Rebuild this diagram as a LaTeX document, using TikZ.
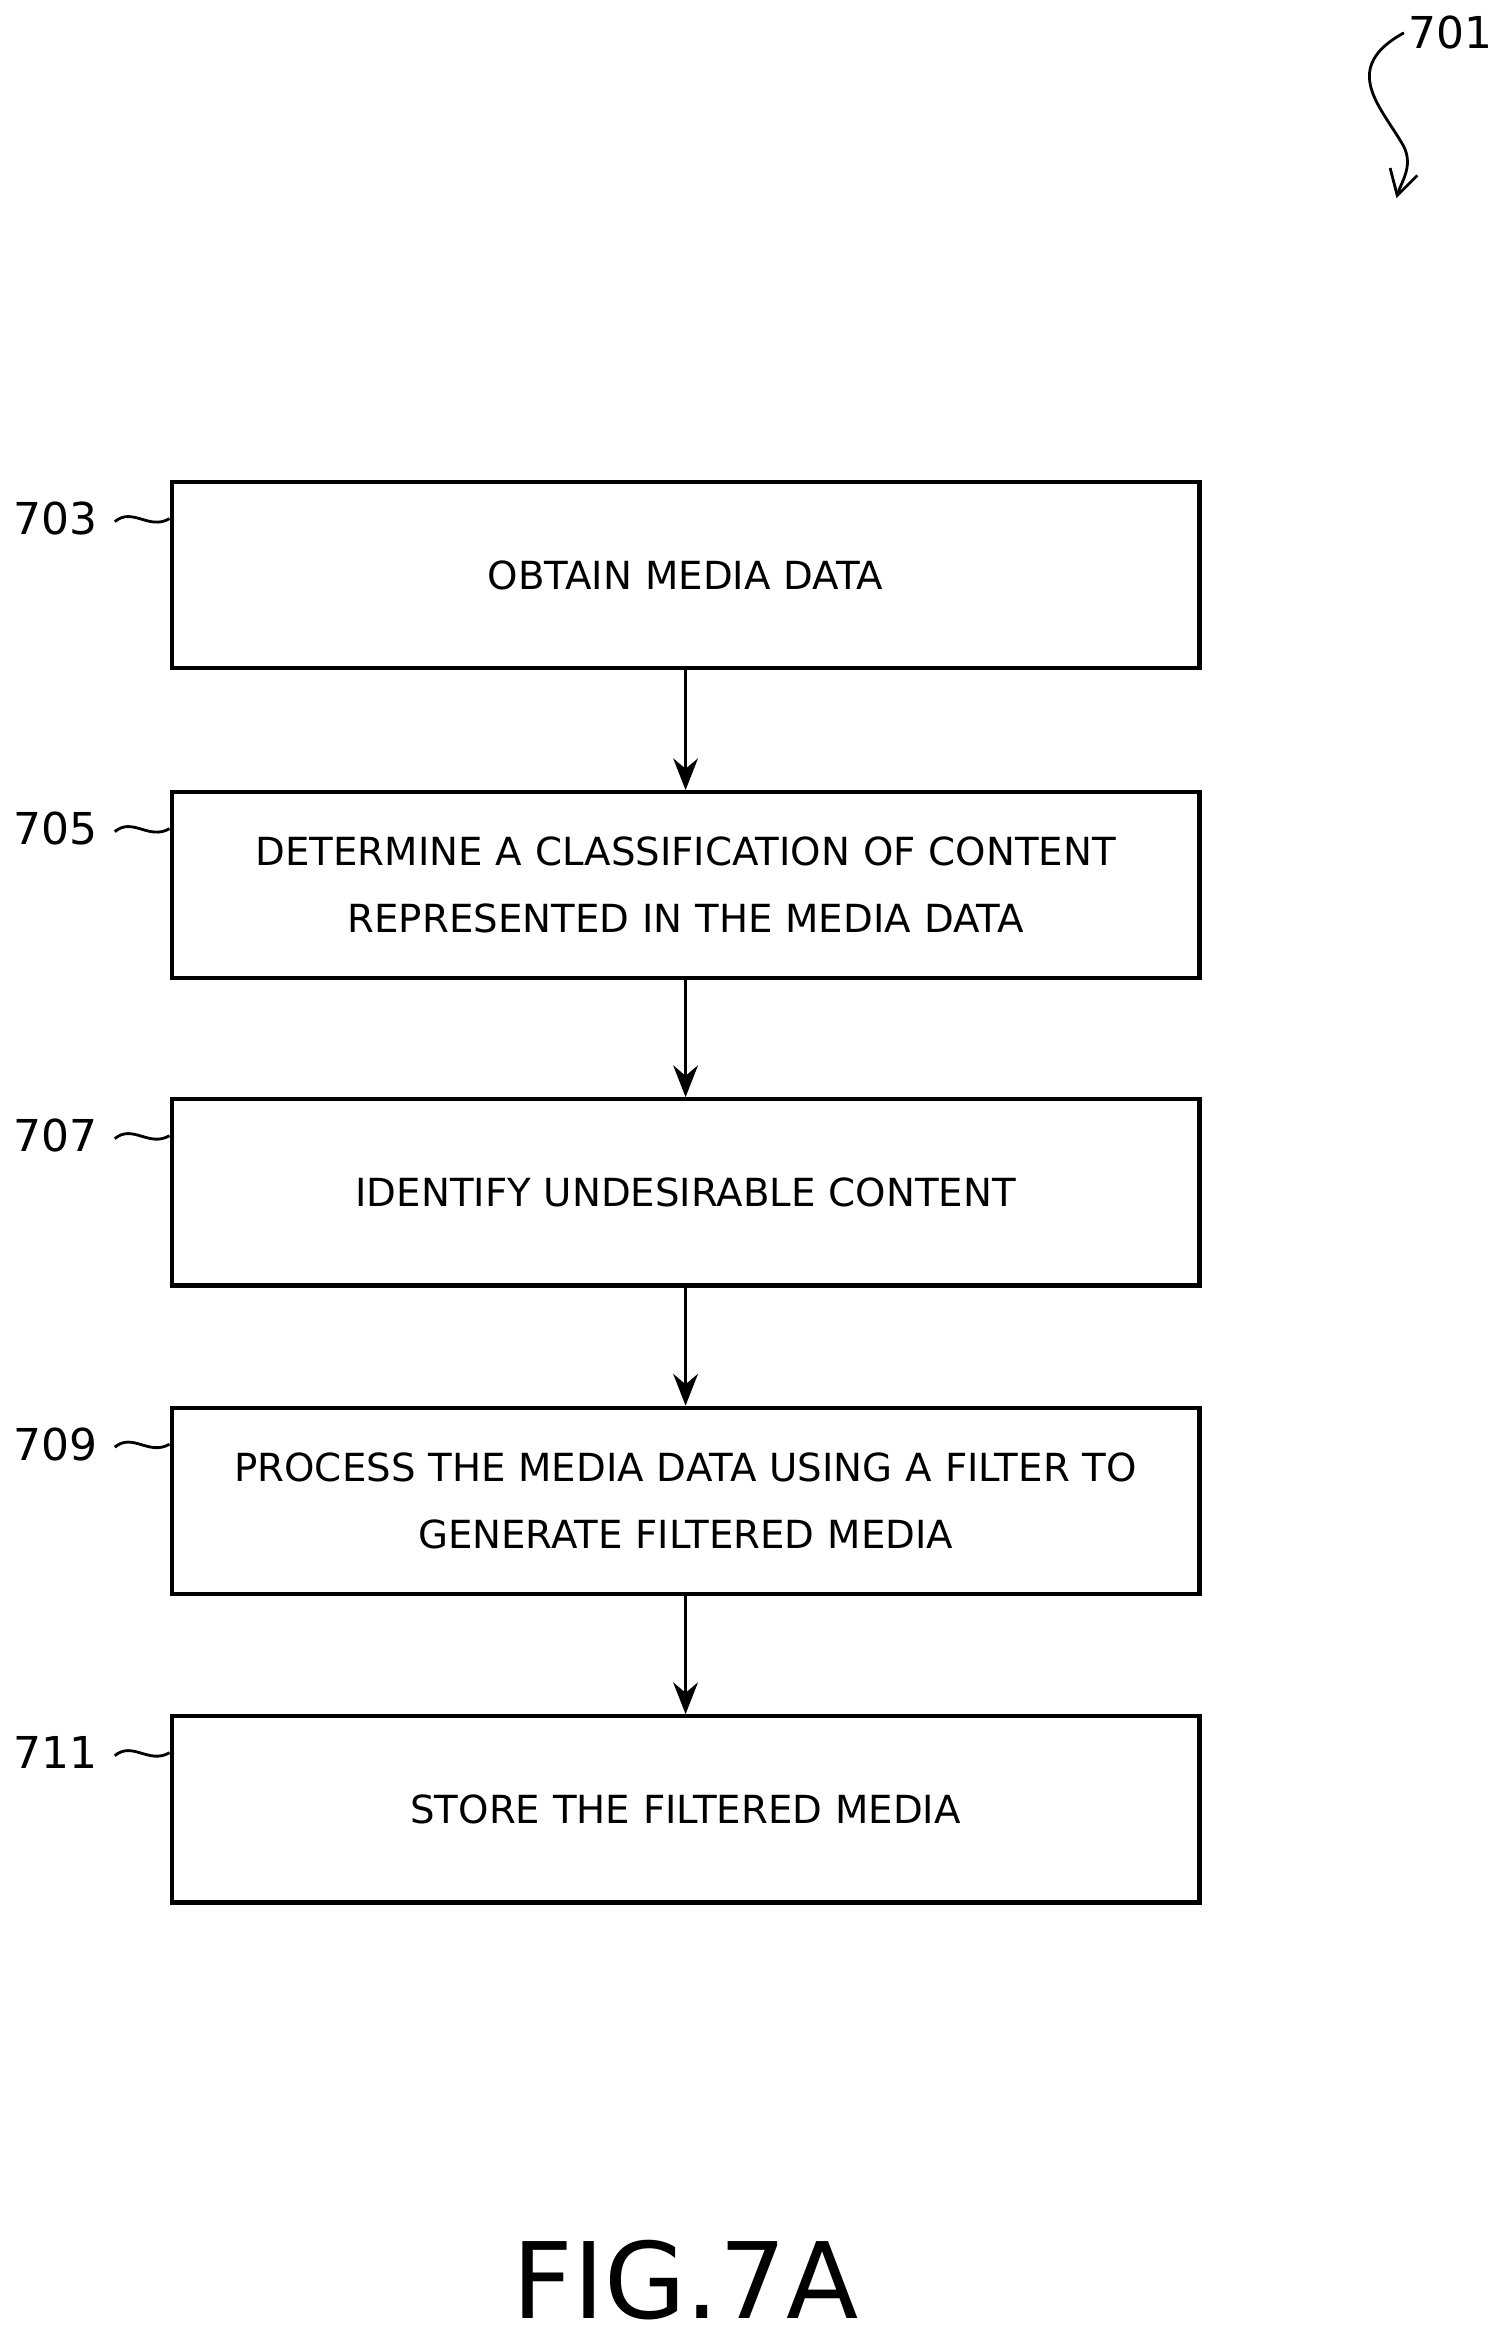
\documentclass[tikz,border=0pt]{standalone}
\usepackage{fontspec}
\setmainfont{DejaVu Sans}
\usetikzlibrary{arrows.meta}
\tikzset{
  stage/.style={rectangle, draw=black, line width=1.2pt, minimum width=10.27cm, minimum height=1.86cm, text width=10cm, align=center, font=\fontsize{11}{19}\selectfont},
  refnum/.style={anchor=east, inner sep=1pt, font=\fontsize{12.5}{14}\selectfont},
  flow/.style={-{Stealth[length=9pt,width=7pt]}, line width=1pt},
  squig/.style={line width=0.8pt}
}
\begin{document}
\begin{tikzpicture}[x=0.0149cm, y=-0.0149cm]
  \useasboundingbox (0,0) rectangle (1000,1560);
  \foreach \n/\y/\t in {703/386/{OBTAIN MEDIA DATA},
                        705/594/{DETERMINE A CLASSIFICATION OF CONTENT\\REPRESENTED IN THE MEDIA DATA},
                        707/800/{IDENTIFY UNDESIRABLE CONTENT},
                        709/1007/{PROCESS THE MEDIA DATA USING A FILTER TO\\GENERATE FILTERED MEDIA},
                        711/1214/{STORE THE FILTERED MEDIA}}{
    \node[stage] (b\n) at (460,\y) {\t};
    \node[refnum] (l\n) at (68,\y-38) {\n};
    \draw[squig] (l\n.east) ++(9,2) .. controls +(12,-10) and +(-14,8) .. (b\n.west |- l\n.east);
  }
  \draw[flow] (b703) -- (b705);
  \draw[flow] (b705) -- (b707);
  \draw[flow] (b707) -- (b709);
  \draw[flow] (b709) -- (b711);
  % figure reference
  \node[refnum, anchor=west] (l701) at (942,22) {701};
  \draw[squig, -{Straight Barb[length=7pt,width=8pt]}] (l701.west) .. controls (900,45) and (925,70) .. (940,95) .. controls (950,110) and (940,122) .. (937,133);
  \node[font=\fontsize{30}{32}\selectfont] (fig) at (460,1530) {FIG.7A};
\end{tikzpicture}
\end{document}
